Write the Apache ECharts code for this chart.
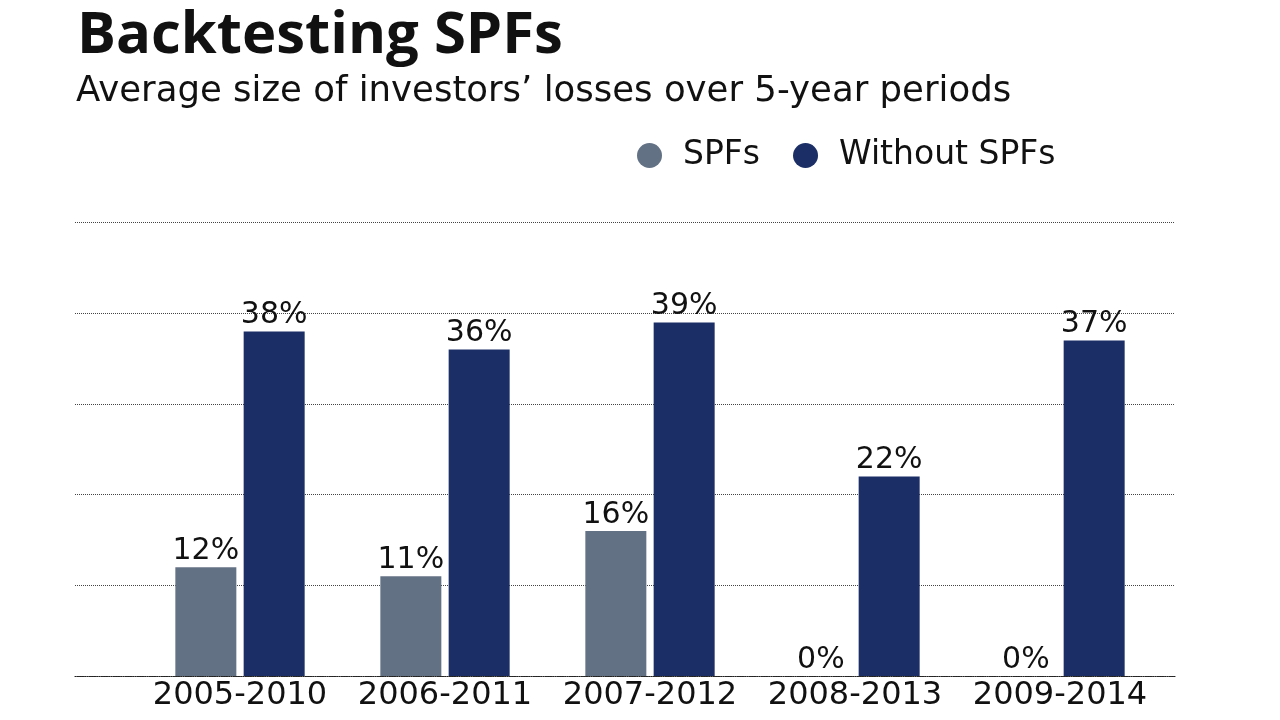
<!DOCTYPE html>
<html><head><meta charset="utf-8">
<script src="https://cdn.jsdelivr.net/npm/echarts@6/dist/echarts.min.js"></script>
<style>html,body{margin:0;padding:0;background:#fff}#c{width:1280px;height:720px}</style>
</head><body><div id="c"></div>
<script>
const categories = ['2005-2010','2006-2011','2007-2012','2008-2013','2009-2014'];
const spfs = [12, 11, 16, 0, 0];
const withoutSpfs = [38, 36, 39, 22, 37];
const seriesNames = ['SPFs', 'Without SPFs'];
const yTicks = [0, 10, 20, 30, 40, 50];

const FONT = 'DejaVu Sans';
const chart = echarts.init(document.getElementById('c'));
const labelStyle = {show:true, position:'top', distance:1, fontSize:30, color:'#111', fontFamily:FONT, formatter:p=>p.value+'%'};
chart.setOption({
  animation:false,
  textStyle:{fontFamily:FONT},
  title:[
    {text:'Backtesting SPFs', left:72, top:2, textStyle:{fontSize:58, fontWeight:'bold', color:'#111', fontFamily:'Open Sans'}},
    {text:'Average size of investors\u2019 losses over 5-year periods', left:71, top:69, textStyle:{fontSize:35.5, fontWeight:'normal', color:'#111', fontFamily:FONT}}
  ],
  legend:{
    data:seriesNames, left:632, top:134, icon:'circle', itemWidth:25, itemHeight:25, itemGap:33,
    textStyle:{fontSize:33, color:'#111', fontFamily:FONT, padding:[0,0,0,16]}
  },
  grid:[
    {left:75, right:105, top:222.7, bottom:44, containLabel:false},
    {left:137.5, width:1025, top:222.7, bottom:44, containLabel:false}
  ],
  xAxis:[
    {gridIndex:0, type:'category', data:categories, show:true, axisLabel:{show:false}, axisTick:{show:false},
     axisLine:{show:true, lineStyle:{color:'#222', type:'dotted', width:1.2}}},
    {gridIndex:1, type:'category', data:categories, axisTick:{show:false}, axisLine:{show:false},
     axisLabel:{interval:0, fontSize:32, color:'#111', margin:4, fontFamily:FONT}}
  ],
  yAxis:[
    {gridIndex:0, type:'value', min:yTicks[0], max:yTicks[yTicks.length-1], interval:10, axisLabel:{show:false}, axisLine:{show:false}, axisTick:{show:false},
     splitLine:{show:true, lineStyle:{color:'#444', type:'dotted', width:1}}},
    {gridIndex:1, type:'value', min:yTicks[0], max:yTicks[yTicks.length-1], interval:10, show:false, splitLine:{show:false}}
  ],
  series:[
    {name:seriesNames[0], type:'bar', xAxisIndex:1, yAxisIndex:1, data:spfs, barWidth:61, barGap:'12%', itemStyle:{color:'#637185'}, label:labelStyle},
    {name:seriesNames[1], type:'bar', xAxisIndex:1, yAxisIndex:1, data:withoutSpfs, barWidth:61, barGap:'12%', itemStyle:{color:'#1b2f66'}, label:labelStyle}
  ]
});
</script></body></html>
